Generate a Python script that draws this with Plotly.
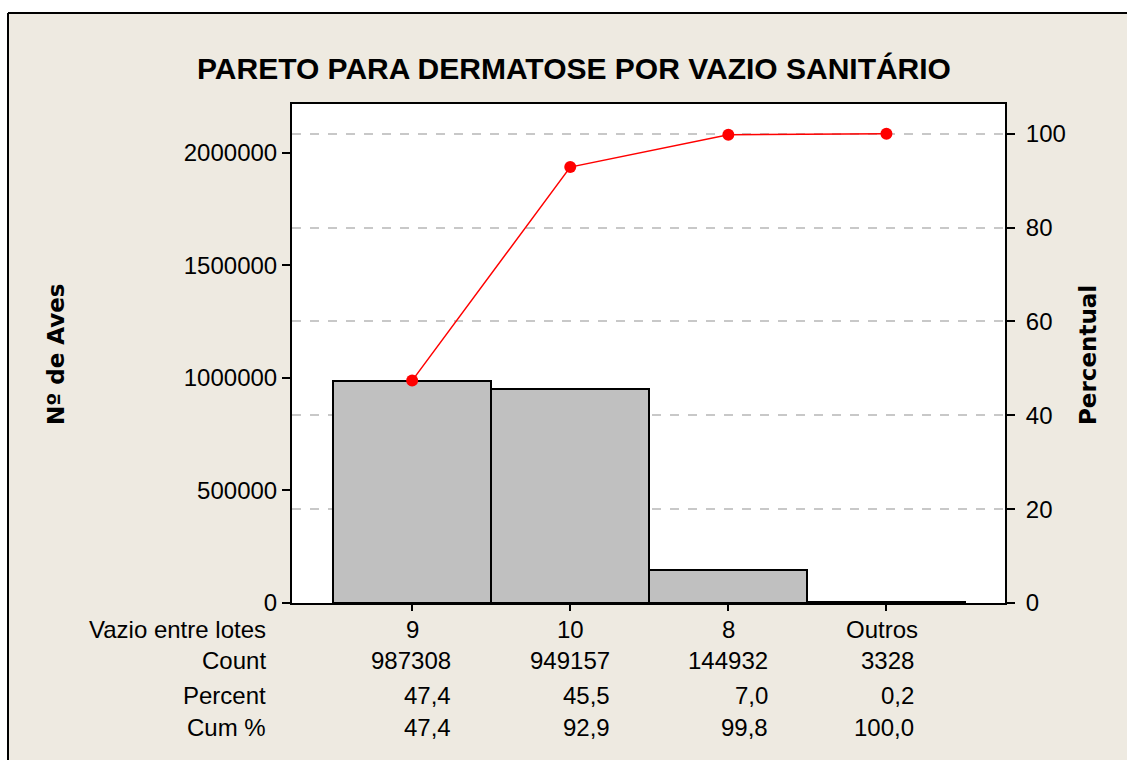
import plotly.graph_objects as go

# ---- data ----
categories = ["9", "10", "8", "Outros"]
counts = [987308, 949157, 144932, 3328]
percent = [47.4, 45.5, 7.0, 0.2]
cum_percent = [47.4, 92.9, 99.8, 100.0]
left_ticks = [0, 500000, 1000000, 1500000, 2000000]
right_ticks = [0, 20, 40, 60, 80, 100]
row_labels = ["Vazio entre lotes", "Count", "Percent", "Cum %"]

title = "PARETO PARA DERMATOSE POR VAZIO SANITÁRIO"
ytitle_left = "Nº de Aves"
ytitle_right = "Percentual"

# ---- layout geometry (pixels) ----
W, H = 1127, 760
PL, PR, PT, PB = 292, 1005, 104, 603
pw, ph = PR - PL, PB - PT


def px_x(px):
    return (px - PL) / pw


def px_y(py):
    return (PB - py) / ph


total = sum(counts)
y_top = 2.217e6
y2_top = y_top / total * 100

BG = "#EEEAE1"
FONT = "Liberation Sans"

xs = list(range(len(categories)))

fig = go.Figure()
fig.add_trace(go.Bar(
    x=xs, y=counts, width=1.0,
    marker=dict(color="#C0C0C0", line=dict(color="black", width=2)),
    showlegend=False, hoverinfo="skip"))
fig.add_trace(go.Scatter(
    x=xs, y=cum_percent, yaxis="y2", mode="lines+markers",
    line=dict(color="#FF0000", width=1.5),
    marker=dict(color="#FF0000", size=12),
    showlegend=False, hoverinfo="skip"))

annotations = []
# table row labels
row_y = [629, 660, 695, 727]
for lab, ry in zip(row_labels, row_y):
    annotations.append(dict(
        text=lab, xref="paper", yref="paper", x=px_x(268), y=px_y(ry),
        xanchor="right", yanchor="middle", showarrow=False,
        font=dict(family=FONT, size=24, color="black")))

num_shift = [41, 42, 42, 30]
cat_shift = [0, 0, 0, -4]
for i, cat in enumerate(categories):
    annotations.append(dict(
        text=cat, xref="x", yref="paper", x=xs[i], y=px_y(row_y[0]),
        xanchor="center", yanchor="middle", xshift=cat_shift[i], showarrow=False,
        font=dict(family=FONT, size=24, color="black")))
    vals = [str(counts[i]),
            f"{percent[i]:.1f}".replace(".", ","),
            f"{cum_percent[i]:.1f}".replace(".", ",")]
    for v, ry in zip(vals, row_y[1:]):
        annotations.append(dict(
            text=v, xref="x", yref="paper", x=xs[i], y=px_y(ry),
            xanchor="right", yanchor="middle", xshift=num_shift[i], showarrow=False,
            font=dict(family=FONT, size=24, color="black")))

# axis titles
annotations.append(dict(
    text=f"<b>{ytitle_left}</b>", xref="paper", yref="paper",
    x=px_x(56), y=px_y(354), xanchor="center", yanchor="middle",
    textangle=-90, showarrow=False,
    font=dict(family="DejaVu Sans", size=23, color="black")))
annotations.append(dict(
    text=f"<b>{ytitle_right}</b>", xref="paper", yref="paper",
    x=px_x(1088), y=px_y(355), xanchor="center", yanchor="middle",
    textangle=-90, showarrow=False,
    font=dict(family="DejaVu Sans", size=23, color="black")))

# white margin strips and the black figure frame (outside the plot area)
shapes = [
    dict(type="rect", xref="paper", yref="paper",
         x0=px_x(-20), x1=px_x(8), y0=px_y(H + 20), y1=px_y(-20),
         fillcolor="white", line=dict(width=0), layer="below"),
    dict(type="rect", xref="paper", yref="paper",
         x0=px_x(-20), x1=px_x(W + 20), y0=px_y(13), y1=px_y(-20),
         fillcolor="white", line=dict(width=0), layer="below"),
    dict(type="line", xref="paper", yref="paper",
         x0=px_x(8), x1=px_x(8), y0=px_y(13), y1=px_y(H + 20),
         line=dict(color="black", width=2)),
    dict(type="line", xref="paper", yref="paper",
         x0=px_x(8), x1=px_x(W + 20), y0=px_y(13), y1=px_y(13),
         line=dict(color="black", width=2)),
]

fig.update_layout(
    width=W, height=H,
    margin=dict(l=PL, r=W - PR, t=PT, b=H - PB, pad=0),
    paper_bgcolor=BG, plot_bgcolor="white",
    title=dict(text=f"<b>{title}</b>", x=574 / W, y=1 - 68 / H,
               xanchor="center", yanchor="middle",
               font=dict(family=FONT, size=30, color="black")),
    bargap=0,
    xaxis=dict(range=[-0.76, 3.75], tickvals=xs, showticklabels=False,
               ticks="outside", ticklen=6, tickwidth=1.5, tickcolor="black",
               showline=True, linecolor="black", linewidth=2, mirror=True,
               showgrid=False, zeroline=False, fixedrange=True),
    yaxis=dict(range=[0, y_top], tickvals=left_ticks,
               ticktext=[str(t) for t in left_ticks],
               ticks="outside", ticklen=8, tickwidth=1.5, tickcolor="black",
               showline=True, linecolor="black", linewidth=2,
               showgrid=False, zeroline=False,
               tickfont=dict(family=FONT, size=24, color="black")),
    yaxis2=dict(range=[0, y2_top], tickvals=right_ticks, overlaying="y",
                side="right", ticks="outside", ticklen=8, tickwidth=1.5,
                tickcolor="black", showline=True, linecolor="black",
                linewidth=2, showgrid=True, gridcolor="#C8C8C8",
                gridwidth=1.5, griddash="dash", zeroline=False,
                ticklabelstandoff=6,
                tickfont=dict(family=FONT, size=24, color="black")),
    annotations=annotations, shapes=shapes,
)

fig.write_html("out.html",
               config={"displayModeBar": False},
               post_script="document.body.style.margin='0px';document.body.style.overflow='hidden';")
